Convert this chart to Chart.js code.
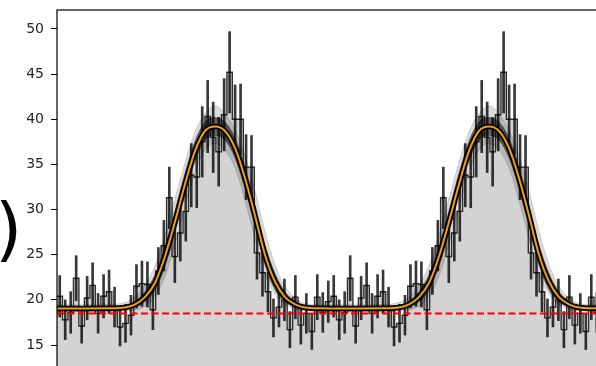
<!DOCTYPE html>
<html>
<head>
<meta charset="utf-8">
<script src="https://cdn.jsdelivr.net/npm/chart.js@4"></script>
<style>
  html, body { margin: 0; padding: 0; background: #fff; overflow: hidden; }
  #wrap { width: 596px; height: 366px; overflow: hidden; position: relative; }
  canvas { display: block; }
</style>
</head>
<body>
<div id="wrap"><canvas id="c" width="605" height="400"></canvas></div>
<script>
// Phase-folded light curve, shown over two cycles.
const cycles = 2;
const binsPerCycle = 50;

// Binned flux per phase bin (one cycle) and its 1-sigma error
const binFlux = [
  20.4, 17.8, 18.6, 22.4, 17.1, 20.2, 21.6, 18.5, 20.4, 20.9,
  19.2, 17.0, 17.4, 18.3, 21.5, 21.8, 21.7, 18.9, 23.2, 26.0,
  31.3, 24.8, 27.4, 29.8, 33.8, 33.6, 37.5, 40.3, 38.0, 36.4,
  40.5, 45.2, 40.0, 40.0, 34.7, 34.7, 25.2, 23.0, 20.9, 18.0,
  19.2, 20.0, 16.7, 20.3, 17.2, 18.5, 16.5, 20.3, 18.6, 19.8
];
const binError = [
  2.3, 2.2, 2.3, 2.5, 1.9, 2.4, 2.5, 2.2, 2.4, 2.4,
  2.2, 2.1, 2.1, 2.2, 2.4, 2.5, 2.5, 2.2, 2.6, 2.8,
  3.4, 2.9, 3.1, 3.3, 3.5, 3.4, 3.9, 4.0, 3.9, 3.8,
  4.0, 4.5, 3.8, 3.9, 3.6, 3.5, 2.9, 2.6, 2.2, 2.1,
  2.2, 2.3, 2.0, 2.4, 2.1, 2.2, 2.0, 2.5, 2.2, 2.3
];

// Best-fit model and the spread of posterior draws, sampled in phase
const modelPhase = [0.000, 0.102, 0.193, 0.248, 0.285, 0.321, 0.358, 0.394, 0.431, 0.467, 0.504, 0.540,
                    0.577, 0.613, 0.650, 0.686, 0.723, 0.759, 0.796, 0.832, 0.869, 0.905, 0.960, 1.000];
const modelFlux  = [19.05, 19.05, 19.06, 19.15, 19.5, 20.3, 21.9, 24.8, 28.7, 32.8, 36.5, 38.7,
                    39.2, 38.7, 36.8, 33.5, 29.3, 25.0, 22.0, 20.3, 19.5, 19.15, 19.06, 19.05];
// Dense core of the draws
const coreUpper  = [19.25, 19.25, 19.26, 19.4, 19.85, 20.9, 22.8, 25.9, 29.9, 34.0, 37.6, 39.7,
                    40.2, 39.7, 37.9, 34.7, 30.5, 26.1, 22.9, 20.9, 19.85, 19.4, 19.26, 19.25];
const coreLower  = [18.85, 18.85, 18.86, 18.95, 19.2, 19.8, 21.1, 23.7, 27.5, 31.6, 35.4, 37.7,
                    38.2, 37.7, 35.7, 32.3, 28.1, 23.9, 21.1, 19.8, 19.2, 18.95, 18.86, 18.85];
// Outer envelope of the draws
const drawsUpper = [19.45, 19.45, 19.5, 19.7, 20.3, 21.6, 23.8, 27.2, 31.3, 35.2, 38.6, 40.6,
                    41.5, 40.6, 38.8, 36.0, 32.0, 27.6, 23.9, 21.5, 20.2, 19.6, 19.45, 19.45];
const drawsLower = [18.7, 18.7, 18.7, 18.75, 18.9, 19.3, 20.4, 22.6, 26.2, 30.3, 34.2, 36.6,
                    37.3, 36.6, 34.6, 31.0, 26.8, 22.8, 20.6, 19.5, 19.0, 18.8, 18.7, 18.7];

const referenceLevel = 18.5;
const yTicks = [15, 20, 25, 30, 35, 40, 45, 50];
const panelTag = ')';

// Histogram outline (bin edges) and error bars over all cycles
const stepPoints = [];
const errorBars = [];
for (let c = 0; c < cycles; c++) {
  binFlux.forEach((v, i) => {
    const x0 = c + i / binsPerCycle, x1 = c + (i + 1) / binsPerCycle;
    stepPoints.push({ x: x0, y: v }, { x: x1, y: v });
    errorBars.push({ x: (x0 + x1) / 2, y: [v - binError[i], v + binError[i]] });
  });
}
function repeatCycles(values) {
  const pts = [];
  for (let c = 0; c < cycles; c++) {
    modelPhase.forEach((p, k) => {
      if (c > 0 && k === 0) return;
      pts.push({ x: c + p, y: values[k] });
    });
  }
  return pts;
}
function curve(values, extra) {
  return Object.assign({
    data: repeatCycles(values),
    fill: false,
    cubicInterpolationMode: 'monotone',
    pointRadius: 0
  }, extra);
}

const frame = {
  id: 'frame',
  afterDatasetsDraw(chart) {
    const { ctx, chartArea: a } = chart;
    ctx.save();
    ctx.strokeStyle = '#000';
    ctx.lineWidth = 1.2;
    ctx.strokeRect(a.left, a.top, a.right - a.left, a.bottom - a.top);
    ctx.restore();
  },
  afterDraw(chart) {
    const ctx = chart.ctx;
    ctx.save();
    ctx.fillStyle = '#000';
    ctx.font = '70px "DejaVu Sans"';
    ctx.textBaseline = 'alphabetic';
    ctx.fillText(panelTag, -5, 253);
    ctx.restore();
  }
};

new Chart(document.getElementById('c'), {
  type: 'line',
  data: {
    datasets: [
      {
        data: stepPoints,
        borderColor: 'rgba(0,0,0,0.8)',
        borderWidth: 1.4,
        backgroundColor: '#d3d3d3',
        fill: 'start',
        pointRadius: 0,
        order: 10
      },
      {
        type: 'bar',
        data: errorBars,
        backgroundColor: 'rgba(0,0,0,0.78)',
        borderWidth: 0,
        barThickness: 2,
        grouped: false,
        order: 9
      },
      curve(drawsUpper, { borderColor: 'rgba(0,0,0,0.15)', borderWidth: 1, backgroundColor: 'rgba(0,0,0,0.14)', fill: '+1', order: 8 }),
      curve(drawsLower, { borderColor: 'rgba(0,0,0,0.15)', borderWidth: 1, order: 7.5 }),
      curve(coreUpper, { borderColor: 'rgba(0,0,0,0.35)', borderWidth: 1, backgroundColor: 'rgba(0,0,0,0.55)', fill: '+1', order: 7 }),
      curve(coreLower, { borderColor: 'rgba(0,0,0,0.35)', borderWidth: 1, order: 6.5 }),
      curve(modelFlux, { borderColor: '#000', borderWidth: 5.5, order: 5 }),
      curve(modelFlux, { borderColor: '#f2a000', borderWidth: 2, order: 4 }),
      {
        data: [{ x: 0, y: referenceLevel }, { x: cycles, y: referenceLevel }],
        borderColor: '#ff0000',
        borderWidth: 2,
        borderDash: [7, 3.5],
        fill: false,
        pointRadius: 0,
        order: 3
      }
    ]
  },
  options: {
    responsive: false,
    maintainAspectRatio: false,
    animation: false,
    events: [],
    layout: { padding: { top: 10, left: 0, right: 0, bottom: 0 } },
    plugins: { legend: { display: false }, tooltip: { enabled: false } },
    scales: {
      x: { type: 'linear', min: 0, max: cycles, display: false, offset: false },
      y: {
        min: 8.91,
        max: 52.1,
        afterBuildTicks: s => { s.ticks = yTicks.map(v => ({ value: v })); },
        afterFit: s => { s.width = 57; s.paddingTop = 0; s.paddingBottom = 0; },
        border: { display: false },
        grid: { drawOnChartArea: false, drawTicks: true, tickLength: 6, color: '#000', lineWidth: 1 },
        ticks: { padding: 7, color: '#262626', font: { family: 'DejaVu Sans', size: 14 } }
      }
    }
  },
  plugins: [frame]
});
</script>
</body>
</html>
